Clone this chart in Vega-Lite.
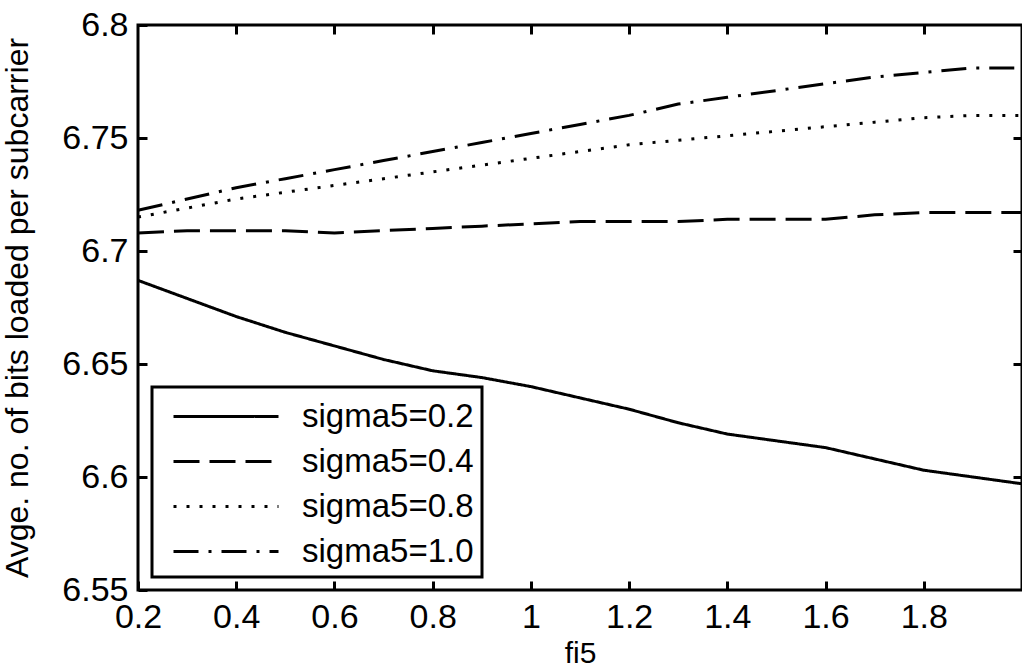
{
  "$schema": "https://vega.github.io/schema/vega-lite/v6.json",
  "width": 884,
  "height": 565,
  "autosize": {"type": "none"},
  "padding": {"left": 138, "top": 25, "right": 0, "bottom": 82},
  "background": "white",
  "config": {
    "view": {"stroke": "black", "strokeWidth": 3},
    "font": "Liberation Sans",
    "axis": {
      "domain": false,
      "grid": false,
      "labelFlush": false,
      "labelColor": "black",
      "labelFontSize": 34,
      "labelFont": "Liberation Sans",
      "titleColor": "black",
      "titleFont": "Liberation Sans",
      "titleFontWeight": "normal",
      "titleFontSize": 32
    }
  },
  "data": {
    "values": [
      {"fi5": 0.2, "series": "sigma5=0.2", "v": 6.687},
      {"fi5": 0.3, "series": "sigma5=0.2", "v": 6.679},
      {"fi5": 0.4, "series": "sigma5=0.2", "v": 6.671},
      {"fi5": 0.5, "series": "sigma5=0.2", "v": 6.664},
      {"fi5": 0.6, "series": "sigma5=0.2", "v": 6.658},
      {"fi5": 0.7, "series": "sigma5=0.2", "v": 6.652},
      {"fi5": 0.8, "series": "sigma5=0.2", "v": 6.647},
      {"fi5": 0.9, "series": "sigma5=0.2", "v": 6.644},
      {"fi5": 1.0, "series": "sigma5=0.2", "v": 6.640},
      {"fi5": 1.1, "series": "sigma5=0.2", "v": 6.635},
      {"fi5": 1.2, "series": "sigma5=0.2", "v": 6.630},
      {"fi5": 1.3, "series": "sigma5=0.2", "v": 6.624},
      {"fi5": 1.4, "series": "sigma5=0.2", "v": 6.619},
      {"fi5": 1.5, "series": "sigma5=0.2", "v": 6.616},
      {"fi5": 1.6, "series": "sigma5=0.2", "v": 6.613},
      {"fi5": 1.7, "series": "sigma5=0.2", "v": 6.608},
      {"fi5": 1.8, "series": "sigma5=0.2", "v": 6.603},
      {"fi5": 1.9, "series": "sigma5=0.2", "v": 6.600},
      {"fi5": 2.0, "series": "sigma5=0.2", "v": 6.597},
      {"fi5": 0.2, "series": "sigma5=0.4", "v": 6.708},
      {"fi5": 0.3, "series": "sigma5=0.4", "v": 6.709},
      {"fi5": 0.4, "series": "sigma5=0.4", "v": 6.709},
      {"fi5": 0.5, "series": "sigma5=0.4", "v": 6.709},
      {"fi5": 0.6, "series": "sigma5=0.4", "v": 6.708},
      {"fi5": 0.7, "series": "sigma5=0.4", "v": 6.709},
      {"fi5": 0.8, "series": "sigma5=0.4", "v": 6.710},
      {"fi5": 0.9, "series": "sigma5=0.4", "v": 6.711},
      {"fi5": 1.0, "series": "sigma5=0.4", "v": 6.712},
      {"fi5": 1.1, "series": "sigma5=0.4", "v": 6.713},
      {"fi5": 1.2, "series": "sigma5=0.4", "v": 6.713},
      {"fi5": 1.3, "series": "sigma5=0.4", "v": 6.713},
      {"fi5": 1.4, "series": "sigma5=0.4", "v": 6.714},
      {"fi5": 1.5, "series": "sigma5=0.4", "v": 6.714},
      {"fi5": 1.6, "series": "sigma5=0.4", "v": 6.714},
      {"fi5": 1.7, "series": "sigma5=0.4", "v": 6.716},
      {"fi5": 1.8, "series": "sigma5=0.4", "v": 6.717},
      {"fi5": 1.9, "series": "sigma5=0.4", "v": 6.717},
      {"fi5": 2.0, "series": "sigma5=0.4", "v": 6.717},
      {"fi5": 0.2, "series": "sigma5=0.8", "v": 6.715},
      {"fi5": 0.3, "series": "sigma5=0.8", "v": 6.719},
      {"fi5": 0.4, "series": "sigma5=0.8", "v": 6.723},
      {"fi5": 0.5, "series": "sigma5=0.8", "v": 6.726},
      {"fi5": 0.6, "series": "sigma5=0.8", "v": 6.729},
      {"fi5": 0.7, "series": "sigma5=0.8", "v": 6.732},
      {"fi5": 0.8, "series": "sigma5=0.8", "v": 6.735},
      {"fi5": 0.9, "series": "sigma5=0.8", "v": 6.738},
      {"fi5": 1.0, "series": "sigma5=0.8", "v": 6.741},
      {"fi5": 1.1, "series": "sigma5=0.8", "v": 6.744},
      {"fi5": 1.2, "series": "sigma5=0.8", "v": 6.747},
      {"fi5": 1.3, "series": "sigma5=0.8", "v": 6.749},
      {"fi5": 1.4, "series": "sigma5=0.8", "v": 6.751},
      {"fi5": 1.5, "series": "sigma5=0.8", "v": 6.753},
      {"fi5": 1.6, "series": "sigma5=0.8", "v": 6.755},
      {"fi5": 1.7, "series": "sigma5=0.8", "v": 6.757},
      {"fi5": 1.8, "series": "sigma5=0.8", "v": 6.759},
      {"fi5": 1.9, "series": "sigma5=0.8", "v": 6.760},
      {"fi5": 2.0, "series": "sigma5=0.8", "v": 6.760},
      {"fi5": 0.2, "series": "sigma5=1.0", "v": 6.718},
      {"fi5": 0.3, "series": "sigma5=1.0", "v": 6.723},
      {"fi5": 0.4, "series": "sigma5=1.0", "v": 6.728},
      {"fi5": 0.5, "series": "sigma5=1.0", "v": 6.732},
      {"fi5": 0.6, "series": "sigma5=1.0", "v": 6.736},
      {"fi5": 0.7, "series": "sigma5=1.0", "v": 6.740},
      {"fi5": 0.8, "series": "sigma5=1.0", "v": 6.744},
      {"fi5": 0.9, "series": "sigma5=1.0", "v": 6.748},
      {"fi5": 1.0, "series": "sigma5=1.0", "v": 6.752},
      {"fi5": 1.1, "series": "sigma5=1.0", "v": 6.756},
      {"fi5": 1.2, "series": "sigma5=1.0", "v": 6.760},
      {"fi5": 1.3, "series": "sigma5=1.0", "v": 6.765},
      {"fi5": 1.4, "series": "sigma5=1.0", "v": 6.768},
      {"fi5": 1.5, "series": "sigma5=1.0", "v": 6.771},
      {"fi5": 1.6, "series": "sigma5=1.0", "v": 6.774},
      {"fi5": 1.7, "series": "sigma5=1.0", "v": 6.777},
      {"fi5": 1.8, "series": "sigma5=1.0", "v": 6.779},
      {"fi5": 1.9, "series": "sigma5=1.0", "v": 6.781},
      {"fi5": 2.0, "series": "sigma5=1.0", "v": 6.781}
    ]
  },
  "resolve": {"axis": {"x": "independent", "y": "independent"}},
  "layer": [
    {
      "mark": {"type": "point", "opacity": 0},
      "encoding": {
        "x": {"field": "fi5", "type": "quantitative", "scale": {"domain": [0.2, 2.0], "nice": false, "zero": false},
              "axis": {"orient": "top", "labels": false, "title": null, "values": [0.4, 0.6, 0.8, 1.0, 1.2, 1.4, 1.6, 1.8],
                       "ticks": true, "tickSize": 9, "offset": -9, "tickWidth": 3, "tickColor": "#000000", "zindex": 2}},
        "y": {"field": "v", "type": "quantitative", "scale": {"domain": [6.55, 6.8], "nice": false, "zero": false},
              "axis": {"orient": "right", "labels": false, "title": null, "values": [6.6, 6.65, 6.7, 6.75],
                       "ticks": true, "tickSize": 9, "offset": -9, "tickWidth": 3, "tickColor": "#000000", "zindex": 2}}
      }
    },
    {
      "mark": {"type": "line", "strokeWidth": 3, "color": "black", "strokeCap": "butt"},
      "encoding": {
        "x": {"field": "fi5", "type": "quantitative",
              "axis": {"orient": "bottom", "title": "fi5", "values": [0.2, 0.4, 0.6, 0.8, 1.0, 1.2, 1.4, 1.6, 1.8], "format": ".2~f",
                       "ticks": true, "tickSize": 9, "offset": -9, "tickWidth": 3, "tickColor": "#000000", "zindex": 2,
                       "labelPadding": 10, "titleFontSize": 30, "titlePadding": 4}},
        "y": {"field": "v", "type": "quantitative",
              "axis": {"orient": "left", "title": "Avge. no. of bits loaded per subcarrier", "values": [6.55, 6.6, 6.65, 6.7, 6.75, 6.8], "format": ".2~f",
                       "ticks": true, "tickSize": 9, "offset": -9, "tickWidth": 3, "tickColor": "#000000", "zindex": 2,
                       "labelPadding": 10, "titlePadding": 27}},
        "strokeDash": {
          "field": "series", "type": "nominal",
          "scale": {"domain": ["sigma5=0.2", "sigma5=0.4", "sigma5=0.8", "sigma5=1.0"], "range": [[1, 0], [26, 10], [3, 10], [25, 10, 3, 10]]},
          "legend": {
            "orient": "none", "legendX": 14, "legendY": 362, "title": null,
            "symbolType": "M-1,0H4.25", "symbolSize": 1600, "symbolStrokeWidth": 3, "symbolStrokeColor": "black", "symbolFillColor": "transparent",
            "symbolOffset": 12,
            "labelFontSize": 33, "labelColor": "black", "labelFont": "Liberation Sans", "labelOffset": 87, "labelLimit": 0,
            "padding": 8, "strokeColor": "black", "fillColor": "white", "rowPadding": 6,
            "encode": {"legend": {"update": {"strokeWidth": {"value": 3}}}}
          }
        }
      }
    }
  ]
}
